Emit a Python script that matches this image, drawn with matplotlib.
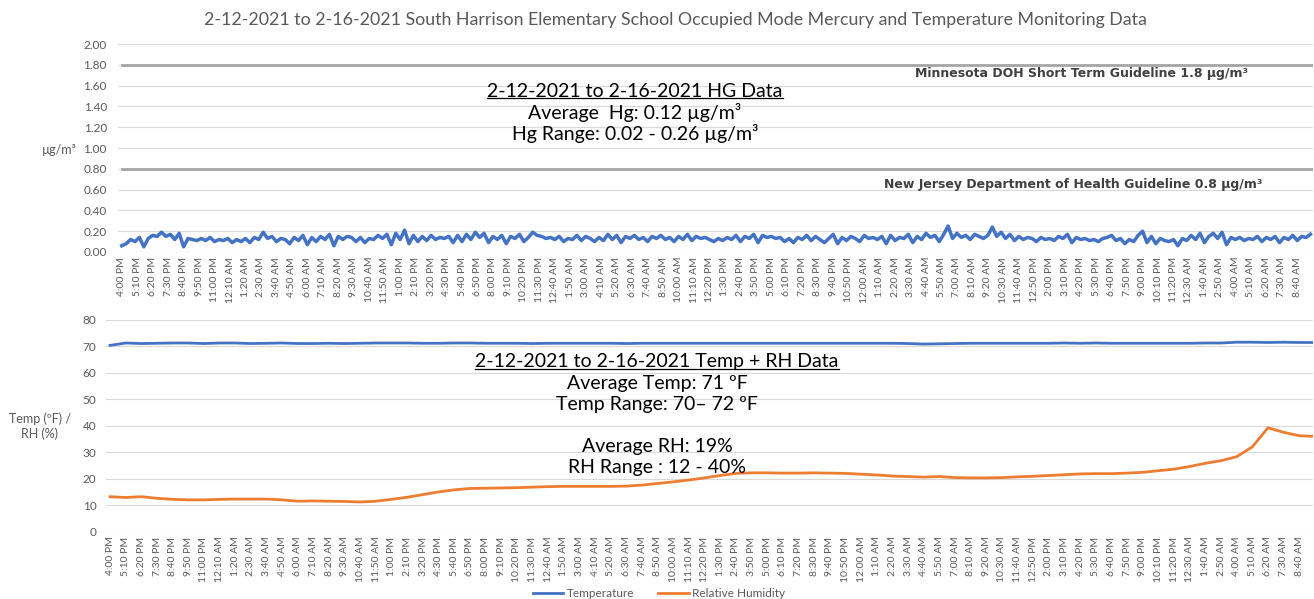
import numpy as np
import matplotlib
matplotlib.use("Agg")
import matplotlib.pyplot as plt
from matplotlib.lines import Line2D

plt.rcParams["font.family"] = ["Lato", "DejaVu Sans"]

# tick labels, one every 70 minutes from 2-12-2021 4:00 PM
tick_labels = [
    "4:00 PM", "5:10 PM", "6:20 PM", "7:30 PM", "8:40 PM", "9:50 PM", "11:00 PM",
    "12:10 AM", "1:20 AM", "2:30 AM", "3:40 AM", "4:50 AM", "6:00 AM", "7:10 AM",
    "8:20 AM", "9:30 AM", "10:40 AM", "11:50 AM", "1:00 PM", "2:10 PM", "3:20 PM",
    "4:30 PM", "5:40 PM", "6:50 PM", "8:00 PM", "9:10 PM", "10:20 PM", "11:30 PM",
    "12:40 AM", "1:50 AM", "3:00 AM", "4:10 AM", "5:20 AM", "6:30 AM", "7:40 AM",
    "8:50 AM", "10:00 AM", "11:10 AM", "12:20 PM", "1:30 PM", "2:40 PM", "3:50 PM",
    "5:00 PM", "6:10 PM", "7:20 PM", "8:30 PM", "9:40 PM", "10:50 PM", "12:00 AM",
    "1:10 AM", "2:20 AM", "3:30 AM", "4:40 AM", "5:50 AM", "7:00 AM", "8:10 AM",
    "9:20 AM", "10:30 AM", "11:40 AM", "12:50 PM", "2:00 PM", "3:10 PM", "4:20 PM",
    "5:30 PM", "6:40 PM", "7:50 PM", "9:00 PM", "10:10 PM", "11:20 PM", "12:30 AM",
    "1:40 AM", "2:50 AM", "4:00 AM", "5:10 AM", "6:20 AM", "7:30 AM", "8:40 AM",
]
tick_minutes = np.arange(len(tick_labels)) * 70

# mercury, ug/m3, read every 20 minutes
hg_minutes = np.arange(0, 5381, 20)
hg = [
    0.06, 0.08, 0.12, 0.10, 0.14, 0.05, 0.13, 0.16, 0.15, 0.19,
    0.15, 0.17, 0.12, 0.18, 0.05, 0.13, 0.12, 0.11, 0.13, 0.11,
    0.14, 0.10, 0.12, 0.11, 0.13, 0.09, 0.12, 0.10, 0.13, 0.09,
    0.14, 0.12, 0.19, 0.13, 0.15, 0.10, 0.13, 0.12, 0.08, 0.14,
    0.11, 0.16, 0.07, 0.14, 0.10, 0.15, 0.12, 0.17, 0.06, 0.15,
    0.12, 0.15, 0.14, 0.10, 0.14, 0.09, 0.13, 0.12, 0.16, 0.13,
    0.17, 0.07, 0.18, 0.12, 0.21, 0.08, 0.16,
    0.10, 0.15, 0.11, 0.16, 0.12, 0.14, 0.13, 0.15, 0.09, 0.16,
    0.10, 0.17, 0.12, 0.19, 0.14, 0.18, 0.09, 0.15, 0.12, 0.16,
    0.08, 0.15, 0.13, 0.17, 0.10, 0.14, 0.19, 0.16, 0.15, 0.13,
    0.14, 0.12, 0.15, 0.10, 0.13, 0.12, 0.16, 0.11, 0.15, 0.13,
    0.10, 0.14, 0.11, 0.17, 0.12, 0.16, 0.09, 0.15, 0.13, 0.16,
    0.12, 0.14, 0.10, 0.15, 0.13, 0.16, 0.12, 0.14, 0.10, 0.15,
    0.12, 0.17, 0.11, 0.15, 0.13, 0.14,
    0.12, 0.10, 0.13, 0.11, 0.14, 0.12, 0.16, 0.10, 0.15, 0.13,
    0.17, 0.09, 0.16, 0.14, 0.15, 0.13, 0.14, 0.10, 0.13, 0.09,
    0.14, 0.12, 0.16, 0.11, 0.15, 0.12, 0.09, 0.13, 0.17, 0.08,
    0.14, 0.11, 0.15, 0.13, 0.10, 0.16, 0.13, 0.14, 0.12, 0.15,
    0.08, 0.16, 0.11, 0.14, 0.13, 0.17, 0.09, 0.15, 0.12, 0.18,
    0.14, 0.16, 0.10, 0.17, 0.25, 0.13, 0.18, 0.14, 0.16, 0.12,
    0.17, 0.15, 0.13, 0.16, 0.24, 0.15, 0.19, 0.13, 0.17, 0.11,
    0.15, 0.12, 0.14, 0.13, 0.10, 0.14, 0.12, 0.13, 0.11, 0.15,
    0.13, 0.17, 0.09, 0.14, 0.12, 0.13, 0.11, 0.12, 0.10, 0.13,
    0.14, 0.16, 0.11, 0.13, 0.08, 0.12, 0.10, 0.16, 0.20, 0.09,
    0.15, 0.08, 0.13, 0.11, 0.10, 0.12, 0.06, 0.13, 0.11, 0.16,
    0.12, 0.18, 0.09, 0.15, 0.18, 0.13, 0.19, 0.07, 0.14, 0.12,
    0.14, 0.11, 0.13, 0.12, 0.15, 0.10, 0.14, 0.12, 0.15, 0.09,
    0.14, 0.12, 0.16, 0.11, 0.15, 0.14, 0.17,
]

# temperature (F) and relative humidity (%), read at each tick + last reading
th_minutes = np.append(tick_minutes, 5380)
temp = [
    70.3, 71.2, 71.0, 71.1, 71.2, 71.2, 71.0, 71.2, 71.2, 71.0,
    71.1, 71.2, 71.0, 71.0, 71.1, 71.0, 71.1, 71.2, 71.2, 71.2,
    71.1, 71.1, 71.2, 71.2, 71.1, 71.1, 71.1, 71.0, 71.1, 71.1,
    71.1, 71.1, 71.1, 71.0, 71.1, 71.1, 71.1, 71.1, 71.1, 71.1,
    71.1, 71.1, 71.1, 71.1, 71.1, 71.1, 71.1, 71.1, 71.1, 71.1,
    71.1, 71.0, 70.8, 70.9, 71.0, 71.1, 71.1, 71.1, 71.1, 71.1,
    71.1, 71.2, 71.1, 71.2, 71.1, 71.1, 71.1, 71.1, 71.1, 71.1,
    71.2, 71.2, 71.5, 71.5, 71.4, 71.5, 71.4, 71.4,
]
rh = [
    13.2, 12.9, 13.2, 12.6, 12.2, 12.0, 12.0, 12.2, 12.3, 12.3,
    12.3, 12.0, 11.5, 11.6, 11.5, 11.4, 11.2, 11.5, 12.2, 13.0,
    14.0, 15.0, 15.8, 16.3, 16.4, 16.5, 16.6, 16.8, 17.0, 17.1,
    17.1, 17.1, 17.1, 17.2, 17.6, 18.2, 18.8, 19.5, 20.3, 21.2,
    22.0, 22.2, 22.2, 22.1, 22.1, 22.2, 22.1, 22.0, 21.7, 21.4,
    21.0, 20.8, 20.6, 20.8, 20.4, 20.3, 20.3, 20.4, 20.7, 20.9,
    21.2, 21.5, 21.8, 21.9, 21.9, 22.1, 22.4, 23.0, 23.6, 24.6,
    25.8, 26.8, 28.3, 32.0, 39.2, 37.5, 36.2, 36.0,
]

BLUE = "#4472C4"
ORANGE = "#ED7D31"
GRID = "#D9D9D9"
TXT = "#595959"

fig = plt.figure(figsize=(13.14, 5.99), dpi=100)
ax1 = fig.add_axes([0.0898, 0.5793, 0.9092, 0.3472])
ax2 = fig.add_axes([0.0807, 0.1124, 0.9183, 0.3539])

for ax in (ax1, ax2):
    for s in ax.spines.values():
        s.set_visible(False)
    ax.set_xlim(-17, 5390)
    ax.set_xticks(tick_minutes)
    ax.set_xticklabels(tick_labels, rotation=90, fontsize=7.5, color=TXT)
    ax.tick_params(axis="both", length=0, colors=TXT)
    ax.grid(axis="y", color=GRID, linewidth=0.8)
    ax.set_axisbelow(True)

# Hg panel
ax1.plot(hg_minutes, hg, color=BLUE, linewidth=2.5)
ax1.axhline(1.8, xmin=0.003, color="#A5A5A5", linewidth=2)
ax1.axhline(0.8, xmin=0.003, color="#A5A5A5", linewidth=2)
ax1.set_ylim(0, 2.0)
ax1.set_yticks(np.arange(0, 2.01, 0.2))
ax1.set_yticklabels(["%.2f" % v for v in np.arange(0, 2.01, 0.2)], fontsize=8.5)
ax1.tick_params(axis="y", pad=8)

# Temp / RH panel
ax2.set_xlim(-18, 5380)
ax2.plot(th_minutes, temp, color=BLUE, linewidth=2, label="Temperature")
ax2.plot(th_minutes, rh, color=ORANGE, linewidth=2, label="Relative Humidity")
ax2.set_ylim(0, 80)
ax2.set_yticks(range(0, 81, 10))
ax2.tick_params(axis="y", labelsize=8.5, pad=7)

fig.text(0.5137, 0.9666, "2-12-2021 to 2-16-2021 South Harrison Elementary School Occupied Mode "
         "Mercury and Temperature Monitoring Data", ha="center", va="center",
         fontsize=12.8, color=TXT)

fig.text(0.0449, 0.7496, "µg/m³", ha="center", va="center", fontsize=9, color=TXT)
fig.text(0.0304, 0.288, "Temp (ºF) /\nRH (%)", ha="center", va="center",
         fontsize=9, color=TXT, linespacing=1.2)

heads = []
heads.append(fig.text(0.4833, 0.848, "2-12-2021 to 2-16-2021 HG Data", ha="center",
                      va="center", fontsize=14))
fig.text(0.4833, 0.8114, "Average  Hg: 0.12 µg/m³", ha="center", va="center", fontsize=14)
fig.text(0.4833, 0.7763, "Hg Range: 0.02 - 0.26 µg/m³", ha="center", va="center", fontsize=14)

fig.text(0.9498, 0.8765, "Minnesota DOH Short Term Guideline 1.8 µg/m³", ha="right",
         va="center", fontsize=9, fontweight="bold", color="#404040",
         family=["DejaVu Sans"])
fig.text(0.9604, 0.6928, "New Jersey Department of Health Guideline 0.8 µg/m³", ha="right",
         va="center", fontsize=9, fontweight="bold", color="#404040",
         family=["DejaVu Sans"])

bx = 0.5
heads.append(fig.text(bx, 0.3957, "2-12-2021 to 2-16-2021 Temp + RH Data", ha="center",
                      va="center", fontsize=14))
fig.text(bx, 0.3606, "Average Temp: 71 ºF", ha="center", va="center", fontsize=14)
fig.text(bx, 0.3255, "Temp Range: 70– 72 ºF", ha="center", va="center", fontsize=14)
fig.text(bx, 0.2538, "Average RH: 19%", ha="center", va="center", fontsize=14)
fig.text(bx, 0.2187, "RH Range : 12 - 40%", ha="center", va="center", fontsize=14)

fig.legend(loc="center", bbox_to_anchor=(0.5015, 0.009), ncol=2, frameon=False,
           fontsize=8.5, handlelength=2.6, handletextpad=0.3, columnspacing=2,
           labelcolor=TXT)

# underline the two headings
fig.canvas.draw()
inv = fig.transFigure.inverted()
for t in heads:
    bb = t.get_window_extent()
    (x0, y0), (x1, _) = inv.transform([(bb.x0, bb.y0), (bb.x1, bb.y1)])
    fig.add_artist(Line2D([x0, x1], [y0 + 0.002, y0 + 0.002], color="black",
                          linewidth=0.9, transform=fig.transFigure))

fig.savefig("out.png", dpi=100)
